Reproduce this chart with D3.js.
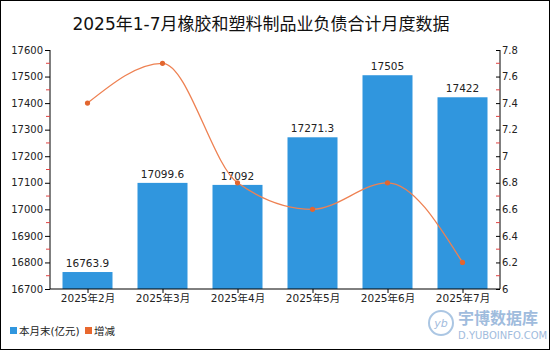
<!DOCTYPE html>
<html><head><meta charset="utf-8">
<script src="https://cdn.jsdelivr.net/npm/d3@7"></script>
<style>body{margin:0;background:#fff}svg{display:block}text{font-family:"DejaVu Sans","Noto Sans CJK SC",sans-serif}</style>
</head><body><svg id="c" width="550" height="350"></svg>
<script>
const categories = ["2025年2月","2025年3月","2025年4月","2025年5月","2025年6月","2025年7月"];
const valueLabels = ["16763.9","17099.6","17092","17271.3","17505","17422"];
const balance = [16763.9, 17099.6, 17092, 17271.3, 17505, 17422];
const change = [7.4, 7.7, 6.8, 6.6, 6.8, 6.2];
const leftTicks = [16700,16800,16900,17000,17100,17200,17300,17400,17500,17600];
const rightTicks = [6,6.2,6.4,6.6,6.8,7,7.2,7.4,7.6,7.8];
const rightTickLabels = ["6","6.2","6.4","6.6","6.8","7","7.2","7.4","7.6","7.8"];
const title = "2025年1-7月橡胶和塑料制品业负债合计月度数据";
const legendNames = ["本月末(亿元)","增减"];

const svg = d3.select("#c");
const L = 50, R = 500, T = 50, B = 289;
const barColor = "#3096DE", lineColor = "#EE8152", dotColor = "#E2662F";

svg.append("rect").attr("x",0.5).attr("y",0.5).attr("width",549).attr("height",349)
  .attr("fill","#fff").attr("stroke","#000").attr("stroke-width",1);

svg.append("text").attr("x",261).attr("y",30).attr("text-anchor","middle")
  .attr("font-size",17).attr("fill","#111").text(title);

const x = d3.scaleBand().domain(categories).range([L,R]).paddingInner(1/3).paddingOuter(1/6);
const xc = d3.scalePoint().domain(categories).range([L+37.5,R-37.5]);
const yL = d3.scaleLinear().domain([16700,17600]).range([B,T]);
const yR = d3.scaleLinear().domain([6,7.8]).range([B,T]);

// bars
svg.append("g").selectAll("rect").data(balance).join("rect")
  .attr("x",(d,i)=>x(categories[i])).attr("width",x.bandwidth())
  .attr("y",d=>yL(d)).attr("height",d=>B-yL(d)).attr("fill",barColor);

svg.append("g").selectAll("text").data(balance).join("text")
  .attr("x",(d,i)=>xc(categories[i])).attr("y",d=>yL(d)-5)
  .attr("text-anchor","middle").attr("font-size",10.5).attr("fill","#222")
  .text((d,i)=>valueLabels[i]);

// left axis
const gl = svg.append("g").attr("transform",`translate(${L},0)`)
  .call(d3.axisLeft(yL).tickValues(leftTicks).tickSize(5).tickFormat(d3.format("d")));
gl.select(".domain").attr("stroke","#000").attr("d",`M0,${T}V${B}`);
gl.selectAll(".tick line").attr("stroke","#000");
gl.selectAll(".tick text").attr("font-size",10).attr("fill","#222").attr("x",-7);
const lMinor = leftTicks.slice(0,-1).map(v=>v+50);
gl.selectAll(".minor").data(lMinor).join("line").attr("class","minor")
  .attr("x1",-4).attr("x2",0).attr("y1",d=>yL(d)).attr("y2",d=>yL(d)).attr("stroke","#E04040");

// right axis
const gr = svg.append("g").attr("transform",`translate(${R},0)`)
  .call(d3.axisRight(yR).tickValues(rightTicks).tickSize(-4).tickFormat((d,i)=>rightTickLabels[i]));
gr.select(".domain").attr("stroke","#000").attr("d",`M0,${T}V${B}`);
gr.selectAll(".tick line").attr("stroke","#000");
gr.selectAll(".tick text").attr("font-size",10).attr("fill","#222").attr("x",2);
const rMinor = rightTicks.slice(0,-1).map(v=>v+0.1);
gr.selectAll(".minor").data(rMinor).join("line").attr("class","minor")
  .attr("x1",-4).attr("x2",0).attr("y1",d=>yR(d)).attr("y2",d=>yR(d)).attr("stroke","#E04040");

// x axis
const gx = svg.append("g").attr("transform",`translate(0,${B})`)
  .call(d3.axisBottom(xc).tickSize(4).tickSizeOuter(0));
gx.select(".domain").attr("stroke","#000").attr("d",`M${L},0H${R}`);
gx.selectAll(".tick line").attr("stroke","#000");
gx.selectAll(".tick text").attr("font-size",10.5).attr("fill","#222").attr("y",6);

// line
const line = d3.line().x((d,i)=>xc(categories[i])).y(d=>yR(d)).curve(d3.curveMonotoneX);
svg.append("path").datum(change).attr("d",line).attr("fill","none")
  .attr("stroke",lineColor).attr("stroke-width",1.3);
svg.append("g").selectAll("circle").data(change).join("circle")
  .attr("cx",(d,i)=>xc(categories[i])).attr("cy",d=>yR(d)).attr("r",2.6).attr("fill",dotColor);

// legend
const lg = svg.append("g");
lg.append("rect").attr("x",10).attr("y",327).attr("width",7).attr("height",7).attr("fill",barColor);
lg.append("text").attr("x",19).attr("y",334.5).attr("font-size",10.5).attr("fill","#222").text(legendNames[0]);
lg.append("rect").attr("x",85).attr("y",327).attr("width",7).attr("height",7).attr("fill","#E8682E");
lg.append("text").attr("x",94).attr("y",334.5).attr("font-size",10.5).attr("fill","#222").text(legendNames[1]);

// watermark
const wm = svg.append("g").attr("opacity",0.75);
wm.append("circle").attr("cx",441).attr("cy",323).attr("r",12).attr("fill","none").attr("stroke","#8FB4DA").attr("stroke-width",2);
wm.append("text").attr("x",441).attr("y",327).attr("text-anchor","middle").attr("font-size",11).attr("font-style","italic").attr("fill","#7FA6D2").text("yb");
wm.append("text").attr("x",458).attr("y",324).attr("font-size",16).attr("font-weight","bold").attr("fill","#7FA6D2").text("宇博数据库");
wm.append("text").attr("x",458).attr("y",339).attr("font-size",10).attr("fill","#7FA6D2").text("D.YUBOINFO.COM");
</script></body></html>
